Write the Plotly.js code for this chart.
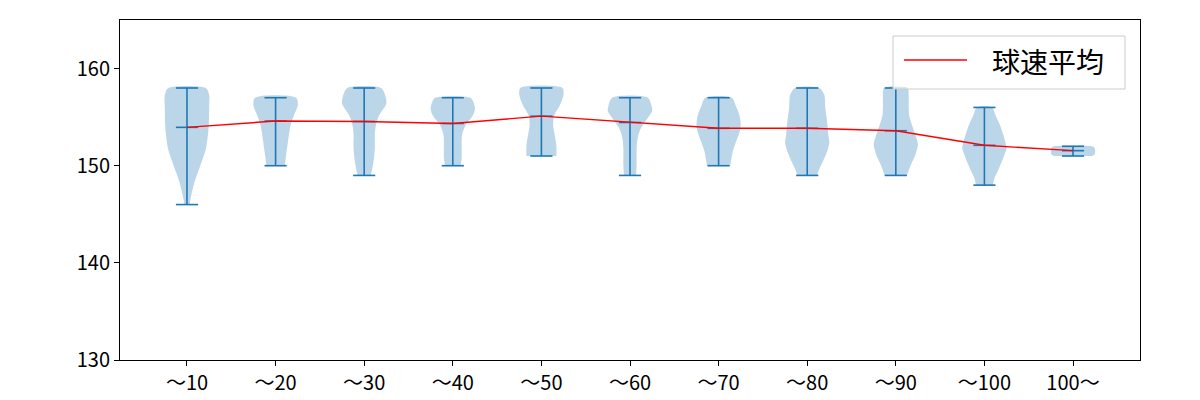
<!DOCTYPE html>
<html>
<head>
<meta charset="utf-8">
<script src="https://cdn.plot.ly/plotly-3.0.1.min.js"></script>
<style>html,body{margin:0;padding:0;background:#fff;}#chart{width:1200px;height:400px;}</style>
</head>
<body>
<div id="chart"></div>
<script>
// Categories (x tick labels)
const categories = ['〜10','〜20','〜30','〜40','〜50','〜60','〜70','〜80','〜90','〜100','100〜'];
// Per-category extremes and means (km/h)
const maxValues  = [158, 157, 158, 157, 158, 157, 157, 158, 158, 156, 152];
const minValues  = [146, 150, 149, 150, 151, 149, 150, 149, 149, 148, 151];
const meanValues = [153.95, 154.6, 154.55, 154.35, 155.1, 154.45, 153.85, 153.85, 153.6, 152.1, 151.55];
// Violin density profiles: speed levels and relative widths (0..1)
const profileY = [
  [146, 147, 148.4, 150, 151.8, 154, 156, 157.3, 158],
  [150, 151, 152.5, 154.2, 155.2, 156.2, 157],
  [149, 150.4, 151.8, 153.2, 154.2, 155.2, 156.4, 157.3, 158],
  [150, 150.8, 151.8, 153.2, 154.2, 155.2, 155.9, 156.6, 157],
  [151, 152.2, 153.2, 154.2, 155.2, 156.2, 157.3, 158],
  [149, 150.1, 151.8, 152.9, 153.9, 154.9, 155.6, 156.2, 157],
  [150, 150.5, 151.5, 152.5, 153.5, 154.2, 155.2, 156.2, 157],
  [149, 149.5, 150.4, 151.5, 152.4, 153.2, 154.5, 155.9, 157.3, 158],
  [149, 150.1, 151.1, 152.2, 153.2, 154.2, 155.2, 156.2, 157.3, 158],
  [148, 148.7, 149.7, 150.8, 151.8, 152.2, 153.2, 154.2, 155.2, 156],
  [151, 151.15, 151.5, 151.85, 152]
];
const profileW = [
  [0.12, 0.2, 0.35, 0.6, 0.86, 0.98, 1.0, 1.0, 0.85],
  [0.42, 0.47, 0.56, 0.68, 0.83, 1.0, 0.93],
  [0.3, 0.42, 0.48, 0.48, 0.53, 0.68, 1.0, 0.94, 0.76],
  [0.35, 0.4, 0.4, 0.42, 0.58, 0.91, 1.0, 0.92, 0.8],
  [0.68, 0.67, 0.6, 0.53, 0.58, 0.83, 1.0, 0.95],
  [0.27, 0.3, 0.3, 0.35, 0.5, 0.8, 1.0, 0.97, 0.8],
  [0.52, 0.56, 0.64, 0.79, 0.95, 1.0, 0.94, 0.77, 0.6],
  [0.44, 0.52, 0.7, 0.9, 1.0, 0.95, 0.9, 0.82, 0.77, 0.55],
  [0.5, 0.68, 0.88, 1.0, 0.88, 0.73, 0.6, 0.58, 0.58, 0.53],
  [0.38, 0.45, 0.65, 0.85, 1.0, 0.97, 0.85, 0.7, 0.5, 0.35],
  [0.85, 0.97, 1.0, 0.97, 0.85]
];
const legendName = '球速平均';

const HALF = 0.25, CAP = 0.125;
const BLUE = '#1f77b4';
const traces = [];
const positions = categories.map((c, i) => i + 1);

// violin bodies
positions.forEach((p, i) => {
  const ys = profileY[i], ws = profileW[i];
  const xs = [], yy = [];
  for (let k = 0; k < ys.length; k++) { xs.push(p - ws[k] * HALF); yy.push(ys[k]); }
  for (let k = ys.length - 1; k >= 0; k--) { xs.push(p + ws[k] * HALF); yy.push(ys[k]); }
  traces.push({
    type: 'scatter', mode: 'lines', x: xs, y: yy, fill: 'toself',
    fillcolor: 'rgba(31,119,180,0.3)', line: {width: 0, shape: 'spline', smoothing: 0.8},
    showlegend: false, hoverinfo: 'skip'
  });
});

// bars and caps
const bx = [], by = [];
positions.forEach((p, i) => {
  bx.push(p, p, null); by.push(minValues[i], maxValues[i], null);
  [minValues[i], maxValues[i], meanValues[i]].forEach(v => {
    bx.push(p - CAP, p + CAP, null); by.push(v, v, null);
  });
});
traces.push({type: 'scatter', mode: 'lines', x: bx, y: by, line: {color: BLUE, width: 1.6},
  showlegend: false, hoverinfo: 'skip'});

// mean line
traces.push({type: 'scatter', mode: 'lines', x: positions, y: meanValues, name: legendName,
  line: {color: 'red', width: 1.4}, showlegend: false});

const font = {family: '"Noto Sans CJK JP", "Noto Sans", sans-serif', color: '#000'};
// legend box (drawn in paper coordinates, matplotlib-style)
const px = v => (v - 120) / 1020, py = v => (360 - v) / 340;
const layout = {
  width: 1200, height: 400,
  margin: {l: 120, r: 60, t: 20, b: 40, pad: 0},
  paper_bgcolor: '#fff', plot_bgcolor: '#fff',
  font: Object.assign({size: 20}, font),
  showlegend: false,
  shapes: [
    {type: 'rect', xref: 'paper', yref: 'paper', x0: px(893), x1: px(1125), y0: py(89), y1: py(36),
     line: {color: '#cccccc', width: 1}, fillcolor: 'rgba(255,255,255,0.8)', layer: 'above'},
    {type: 'line', xref: 'paper', yref: 'paper', x0: px(904), x1: px(967), y0: py(60), y1: py(60),
     line: {color: 'red', width: 1.4}, layer: 'above'}
  ],
  annotations: [
    {xref: 'paper', yref: 'paper', x: px(990), y: py(61), xanchor: 'left', yanchor: 'middle',
     text: legendName, showarrow: false, font: Object.assign({size: 28}, font)}
  ],
  xaxis: {
    range: [0.244, 11.756], tickmode: 'array', tickvals: positions, ticktext: categories,
    showgrid: false, zeroline: false, showline: true, mirror: true, linecolor: '#000', linewidth: 1,
    ticks: 'outside', ticklen: 5, tickwidth: 1, tickcolor: '#000',
    tickfont: Object.assign({size: 20}, font)
  },
  yaxis: {
    range: [130, 165], tickmode: 'array', tickvals: [130, 140, 150, 160],
    showgrid: false, zeroline: false, showline: true, mirror: true, linecolor: '#000', linewidth: 1,
    ticks: 'outside', ticklen: 5, tickwidth: 1, tickcolor: '#000',
    tickfont: Object.assign({size: 20}, font)
  }
};
Plotly.newPlot('chart', traces, layout, {staticPlot: true, displayModeBar: false});
</script>
</body>
</html>
